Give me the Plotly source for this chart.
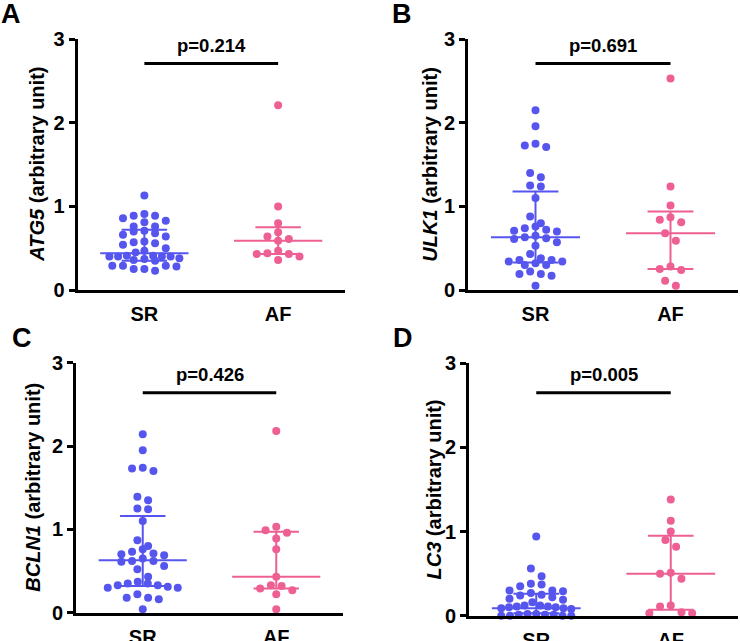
import plotly.graph_objects as go

# ---------------- data ----------------
groups = ["SR", "AF"]
genes = ["ATG5", "ULK1", "BCLN1", "LC3"]
letters = ["A", "B", "C", "D"]
p_values = ["p=0.214", "p=0.691", "p=0.426", "p=0.005"]
y_ticks = [0, 1, 2, 3]

atg5_sr = [1.13, 0.91, 0.89, 0.89, 0.86, 0.83, 0.81, 0.76, 0.76, 0.71, 0.70, 0.68,
           0.66, 0.64, 0.58, 0.57, 0.56, 0.54, 0.50, 0.47, 0.45, 0.41, 0.41, 0.40,
           0.40, 0.40, 0.40, 0.38, 0.37, 0.36, 0.35, 0.29, 0.29, 0.29, 0.28, 0.25,
           0.25, 0.23]
atg5_af = [2.21, 1.00, 0.80, 0.69, 0.64, 0.61, 0.59, 0.47, 0.44, 0.43, 0.43, 0.40, 0.36]

ulk1_sr = [2.15, 1.96, 1.75, 1.73, 1.71, 1.40, 1.35, 1.25, 1.24, 1.10, 0.88, 0.80,
           0.76, 0.74, 0.72, 0.71, 0.70, 0.65, 0.63, 0.62, 0.61, 0.57, 0.53, 0.43,
           0.38, 0.36, 0.36, 0.34, 0.34, 0.32, 0.30, 0.30, 0.22, 0.19, 0.19, 0.17, 0.05]
ulk1_af = [2.53, 1.24, 1.01, 0.87, 0.84, 0.81, 0.68, 0.59, 0.28, 0.25, 0.24, 0.11, 0.05]

bcln1_sr = [2.14, 1.95, 1.74, 1.73, 1.70, 1.39, 1.35, 1.25, 1.24, 1.10, 0.87, 0.80,
            0.76, 0.73, 0.71, 0.70, 0.69, 0.65, 0.62, 0.62, 0.61, 0.56, 0.52, 0.43,
            0.37, 0.35, 0.35, 0.33, 0.33, 0.31, 0.30, 0.30, 0.22, 0.18, 0.18, 0.16, 0.04]
bcln1_af = [2.18, 1.03, 0.99, 0.96, 0.89, 0.76, 0.43, 0.33, 0.32, 0.29, 0.27, 0.22, 0.04]

lc3_sr = [0.94, 0.56, 0.47, 0.38, 0.37, 0.35, 0.30, 0.30, 0.29, 0.27, 0.25, 0.24,
          0.22, 0.20, 0.19, 0.16, 0.12, 0.12, 0.11, 0.11, 0.10, 0.10, 0.09, 0.09,
          0.08, 0.02, 0.02, 0.01, 0.01, 0.01, 0.00, 0.00, 0.00, 0.00]
lc3_af = [1.38, 1.13, 1.00, 0.90, 0.82, 0.51, 0.50, 0.44, 0.12, 0.11, 0.04, 0.03, 0.03]

# median, lower quartile, upper quartile per panel (SR, AF)
medians = [[0.44, 0.59], [0.63, 0.68], [0.63, 0.43], [0.09, 0.50]]
q1s = [[0.35, 0.43], [0.33, 0.25], [0.32, 0.29], [0.03, 0.07]]
q3s = [[0.72, 0.75], [1.18, 0.94], [1.16, 0.97], [0.26, 0.95]]
bar_levels = [2.71, 2.71, 2.64, 2.65]

values = [[atg5_sr, atg5_af], [ulk1_sr, ulk1_af], [bcln1_sr, bcln1_af], [lc3_sr, lc3_af]]

# ---------------- styles / layout ----------------
W, H = 740, 641
FONT = "Liberation Sans, Arial, sans-serif"
COLORS = ["#5656EE", "#EE5F93"]
# panel plot-area boxes in pixels: (left, right, top(y=3), bottom(y=0))
boxes = [(77.5, 345, 39.3, 290), (468, 738, 39.3, 290),
         (76, 343, 362.7, 612.7), (469, 738, 363.3, 615.7)]
letter_pos = [(11, 14), (402, 14), (22, 338), (403, 338)]
title_x = [37, 430, 33, 433]
X_RANGE = [0, 2]
CENTERS = [0.5, 1.5]
MED_HALF = 0.33
CAP_HALF = 0.17
DOT = 8
ROW_PX = 8.0     # vertical extent of a row of dots
COL_PX = 10.7    # horizontal spacing between dots in a row
MAX_ROW_PX = 70  # widest a row may get (dots overlap beyond this)


def row_layout(vals, kx, ky):
    """Prism-like scatter layout: group values into rows, spread each row sideways."""
    order = sorted(range(len(vals)), key=lambda i: -vals[i])
    rows, cur = [], []
    for i in order:
        if cur and (vals[cur[0]] - vals[i]) * ky > ROW_PX:
            rows.append(cur)
            cur = []
        cur.append(i)
    if cur:
        rows.append(cur)
    offs = [0.0] * len(vals)
    for row in rows:
        m = len(row)
        step = COL_PX if m < 2 else min(COL_PX, MAX_ROW_PX / (m - 1))
        slots = sorted([k - (m - 1) / 2 for k in range(m)], key=lambda s: (abs(s), s))
        for idx, s in zip(row, slots):
            offs[idx] = s * step / kx
    return offs


fig = go.Figure()
shapes = []
annotations = []
layout_axes = {}

for p in range(4):
    L, R, T, B = boxes[p]
    xa = "x" if p == 0 else f"x{p+1}"
    ya = "y" if p == 0 else f"y{p+1}"
    kx = (R - L) / (X_RANGE[1] - X_RANGE[0])
    ky = (B - T) / 3.0
    for g in range(2):
        vals = values[p][g]
        offs = row_layout(vals, kx, ky)
        fig.add_trace(go.Scatter(
            x=[CENTERS[g] + o for o in offs], y=vals, mode="markers",
            xaxis=xa, yaxis=ya, cliponaxis=False, hoverinfo="y",
            marker=dict(size=DOT, color=COLORS[g], line=dict(width=0)),
        ))
        c = CENTERS[g]
        col = COLORS[g]
        lw = 2
        shapes.append(dict(type="line", xref=xa, yref=ya, x0=c - MED_HALF, x1=c + MED_HALF,
                           y0=medians[p][g], y1=medians[p][g], line=dict(color=col, width=lw)))
        shapes.append(dict(type="line", xref=xa, yref=ya, x0=c, x1=c,
                           y0=q1s[p][g], y1=q3s[p][g], line=dict(color=col, width=lw)))
        for q in (q1s[p][g], q3s[p][g]):
            shapes.append(dict(type="line", xref=xa, yref=ya, x0=c - CAP_HALF, x1=c + CAP_HALF,
                               y0=q, y1=q, line=dict(color=col, width=lw)))
    # significance bar
    shapes.append(dict(type="line", xref=xa, yref=ya, x0=CENTERS[0], x1=CENTERS[1],
                       y0=bar_levels[p], y1=bar_levels[p], line=dict(color="black", width=3)))
    annotations.append(dict(xref=xa, yref=ya, x=sum(CENTERS) / 2, y=bar_levels[p] + 0.22,
                            text=f"<b>{p_values[p]}</b>", showarrow=False,
                            font=dict(family=FONT, size=18.5, color="black"),
                            xanchor="center", yanchor="middle"))
    # axis title
    annotations.append(dict(xref="paper", yref="paper", x=title_x[p] / W,
                            y=1 - (T + B) / 2 / H, textangle=-90,
                            text=f"<b><i>{genes[p]}</i> (arbitrary unit)</b>", showarrow=False,
                            font=dict(family=FONT, size=20, color="black"),
                            xanchor="center", yanchor="middle"))
    # panel letter
    lx, ly = letter_pos[p]
    annotations.append(dict(xref="paper", yref="paper", x=lx / W, y=1 - ly / H,
                            text=f"<b>{letters[p]}</b>", showarrow=False,
                            font=dict(family=FONT, size=27, color="black"),
                            xanchor="center", yanchor="middle"))

    xkey = "xaxis" if p == 0 else f"xaxis{p+1}"
    ykey = "yaxis" if p == 0 else f"yaxis{p+1}"
    layout_axes[xkey] = dict(domain=[L / W, R / W], range=X_RANGE, anchor=ya,
                             showline=True, linecolor="black", linewidth=3,
                             ticks="", tickvals=CENTERS, ticktext=groups,
                             tickfont=dict(family=FONT, size=20, color="black", weight="bold"),
                             ticklabelstandoff=4, automargin=False,
                             showgrid=False, zeroline=False, fixedrange=True)
    layout_axes[ykey] = dict(domain=[1 - B / H, 1 - T / H], range=[0, 3], anchor=xa,
                             showline=True, linecolor="black", linewidth=3,
                             ticks="outside", ticklen=6, tickwidth=3, tickcolor="black",
                             tickvals=y_ticks, automargin=False,
                             tickfont=dict(family=FONT, size=20, color="black", weight="bold"),
                             showgrid=False, zeroline=False, fixedrange=True)

fig.update_layout(template="none", width=W, height=H, margin=dict(l=0, r=0, t=0, b=0),
                  paper_bgcolor="white", plot_bgcolor="white", showlegend=False,
                  shapes=shapes, annotations=annotations, **layout_axes)

fig.write_html("out.html", config={"displayModeBar": False},
               post_script="document.body.style.margin='0';document.body.style.overflow='hidden';")
